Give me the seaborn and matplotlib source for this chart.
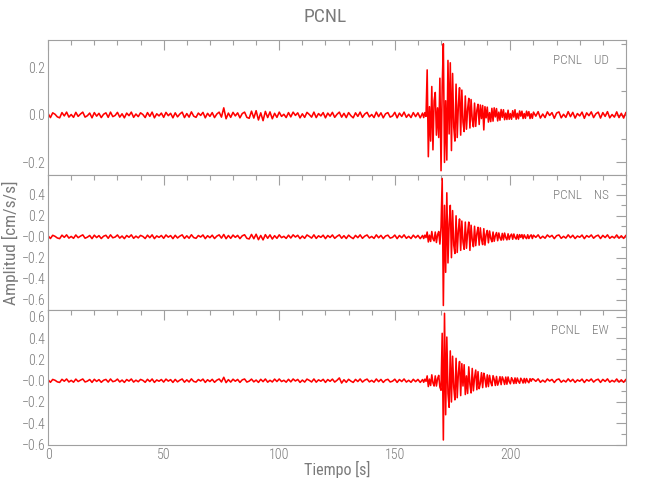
import numpy as np
import pandas as pd
import seaborn as sns
import matplotlib
matplotlib.use("Agg")
import matplotlib.pyplot as plt
from matplotlib.ticker import MultipleLocator

# Station / components
station = "PCNL"
components = ["UD", "NS", "EW"]

# Segment start times [s]; pre/post read every 1 s, event window every 0.5 s
PRE_START, EVT_START, POST_START = 0.0, 162.0, 210.0

# ---- UD component (cm/s/s) ----
ud_pre = [
    0.006, -0.011, 0.009, 0.003, -0.008, -0.012, 0.010, -0.004, 0.012, -0.009,
    0.002, -0.010, 0.011, -0.006, 0.004, 0.012, -0.009, -0.003, 0.008, -0.012,
    0.010, -0.005, 0.007, -0.011, 0.003, 0.009, -0.010, 0.012, -0.007, -0.002,
    0.011, -0.009, 0.005, -0.012, 0.008, -0.003, 0.012, -0.010, 0.004, -0.007,
    0.009, 0.002, -0.011, 0.010, -0.006, 0.012, -0.012, 0.005, -0.004, 0.008,
    -0.010, 0.011, -0.003, 0.007, -0.012, 0.009, -0.008, 0.004, 0.012, -0.011,
    0.006, -0.009, 0.013, -0.005, -0.010, 0.008, -0.002, 0.011, -0.012, 0.007,
    -0.006, 0.010, -0.011, 0.004, 0.012, -0.009, 0.030, -0.016, 0.008, -0.010,
    0.011, -0.004, 0.009, -0.012, 0.006, 0.012, -0.010, -0.014, 0.016, -0.013,
    0.018, -0.021, 0.009, -0.024, 0.015, -0.011, 0.013, -0.016, 0.007, -0.010,
    0.012, -0.006, 0.003, -0.011, 0.010, -0.008, 0.012, -0.002, 0.009, -0.012,
    0.005, -0.010, 0.011, 0.002, -0.009, 0.012, -0.011, 0.006, -0.004, 0.010,
    -0.012, 0.008, -0.005, 0.011, -0.010, 0.003, 0.012, -0.009, 0.007, -0.011,
    0.010, -0.003, -0.012, 0.009, -0.006, 0.012, -0.010, 0.004, 0.011, -0.008,
    0.002, -0.011, 0.012, -0.007, 0.009, -0.012, 0.005, 0.010, -0.009, -0.004,
    0.011, -0.012, 0.008, -0.006, 0.012, -0.010, 0.003, -0.011, 0.010, -0.007,
    0.009, -0.012,
]
ud_evt = [
    0.008, -0.011, 0.010, -0.006, 0.190, -0.176, 0.035, -0.110, 0.120, -0.147,
    0.060, 0.095, -0.085, 0.030, -0.095, 0.155, -0.235, 0.120, 0.300, -0.200,
    0.060, -0.190, 0.230, -0.080, 0.220, -0.150, 0.175, -0.050, -0.110, 0.130,
    -0.095, 0.040, 0.115, -0.085, 0.105, -0.030, -0.070, 0.080, -0.060, 0.025,
    0.070, -0.055, 0.065, -0.020, -0.050, 0.050, -0.048, 0.020, 0.045, -0.040,
    0.042, -0.015, 0.040, -0.063, 0.035, -0.012, 0.033, -0.030, 0.010, -0.028,
    0.028, -0.026, 0.030, -0.008, 0.027, -0.025, 0.012, -0.022, 0.023, -0.010,
    0.022, -0.020, 0.008, -0.019, 0.020, -0.018, 0.006, -0.018, 0.018, -0.009,
    0.022, -0.018, 0.007, -0.016, 0.017, -0.005, 0.016, -0.015, 0.006, -0.014,
    0.016, -0.004, 0.014, -0.015, 0.005, -0.014,
]
ud_post = [
    0.012, -0.005, 0.014, -0.013, 0.004, -0.011, 0.013, -0.002, 0.010, -0.014,
    0.008, 0.013, -0.012, 0.003, -0.010, 0.014, -0.007, 0.011, -0.013, 0.006,
    -0.004, 0.012, -0.014, 0.009, -0.003, 0.013, -0.011, 0.005, 0.012, -0.013,
    0.010, -0.006, 0.014, -0.012, 0.002, -0.009, 0.013, -0.011, 0.007, -0.013,
    0.011,
]

# ---- NS component ----
ns_pre = [
    0.009, -0.017, 0.014, 0.004, -0.012, -0.018, 0.015, -0.006, 0.018, -0.013,
    0.003, -0.015, 0.017, -0.009, 0.006, 0.018, -0.014, -0.004, 0.012, -0.018,
    0.015, -0.008, 0.011, -0.017, 0.005, 0.014, -0.015, 0.018, -0.010, -0.003,
    0.017, -0.013, 0.007, -0.018, 0.012, -0.005, 0.018, -0.015, 0.006, -0.011,
    0.013, 0.003, -0.017, 0.015, -0.009, 0.018, -0.018, 0.008, -0.006, 0.012,
    -0.015, 0.017, -0.004, 0.011, -0.018, 0.014, -0.012, 0.006, 0.018, -0.016,
    0.009, -0.014, 0.019, -0.008, -0.015, 0.012, -0.003, 0.017, -0.018, 0.010,
    -0.009, 0.015, -0.017, 0.006, 0.018, -0.013, 0.022, -0.019, 0.012, -0.015,
    0.016, -0.006, 0.013, -0.018, 0.009, 0.019, -0.015, -0.021, 0.022, -0.019,
    0.024, -0.028, 0.012, -0.030, 0.020, -0.015, 0.018, -0.022, 0.010, -0.015,
    0.018, -0.009, 0.004, -0.016, 0.015, -0.012, 0.018, -0.003, 0.014, -0.018,
    0.007, -0.015, 0.017, 0.003, -0.013, 0.018, -0.016, 0.009, -0.006, 0.015,
    -0.018, 0.012, -0.007, 0.017, -0.015, 0.004, 0.018, -0.014, 0.010, -0.017,
    0.015, -0.004, -0.018, 0.013, -0.009, 0.018, -0.015, 0.006, 0.017, -0.012,
    0.003, -0.016, 0.018, -0.010, 0.013, -0.018, 0.007, 0.015, -0.013, -0.006,
    0.016, -0.018, 0.012, -0.009, 0.018, -0.015, 0.004, -0.017, 0.015, -0.010,
    0.013, -0.018,
]
ns_evt = [
    0.012, -0.017, 0.015, -0.008, 0.045, -0.050, 0.015, -0.045, 0.050, -0.020,
    -0.040, 0.045, -0.055, 0.020, 0.050, -0.070, 0.090, 0.557, -0.657, 0.300,
    -0.340, 0.420, -0.250, 0.120, 0.300, -0.200, 0.250, -0.080, -0.160, 0.200,
    -0.150, 0.060, 0.170, -0.130, 0.150, -0.050, -0.120, 0.140, -0.110, 0.040,
    0.140, -0.130, 0.110, -0.030, -0.095, 0.100, -0.085, 0.030, 0.090, -0.080,
    0.085, -0.025, -0.075, 0.077, -0.080, 0.020, 0.060, -0.058, 0.055, -0.015,
    -0.048, 0.045, -0.043, 0.012, 0.040, -0.038, 0.036, -0.010, -0.033, 0.032,
    -0.030, 0.035, -0.008, -0.030, 0.028, -0.026, 0.010, 0.025, -0.024, 0.026,
    -0.008, -0.022, 0.021, -0.025, 0.020, -0.006, 0.020, -0.019, 0.018, -0.005,
    -0.018, 0.019, -0.017, 0.006, 0.018, -0.017,
]
ns_post = [
    0.015, -0.006, 0.018, -0.016, 0.005, -0.014, 0.017, -0.003, 0.013, -0.018,
    0.010, 0.017, -0.015, 0.004, -0.013, 0.018, -0.009, 0.014, -0.017, 0.007,
    -0.005, 0.016, -0.018, 0.011, -0.004, 0.017, -0.014, 0.006, 0.015, -0.017,
    0.013, -0.008, 0.018, -0.015, 0.003, -0.012, 0.017, -0.014, 0.009, -0.016,
    0.014,
]

# ---- EW component ----
ew_pre = [
    0.008, -0.015, 0.012, 0.004, -0.011, -0.016, 0.013, -0.005, 0.016, -0.012,
    0.003, -0.014, 0.015, -0.008, 0.005, 0.016, -0.012, -0.004, 0.011, -0.016,
    0.013, -0.007, 0.010, -0.015, 0.004, 0.012, -0.013, 0.016, -0.009, -0.003,
    0.015, -0.012, 0.006, -0.016, 0.011, -0.004, 0.016, -0.013, 0.005, -0.010,
    0.012, 0.003, -0.015, 0.013, -0.008, 0.016, -0.016, 0.007, -0.005, 0.011,
    -0.013, 0.015, -0.004, 0.010, -0.016, 0.012, -0.011, 0.005, 0.016, -0.014,
    0.008, -0.012, 0.017, -0.007, -0.013, 0.011, -0.003, 0.015, -0.016, 0.009,
    -0.008, 0.013, -0.015, 0.005, 0.016, -0.012, 0.032, -0.018, 0.010, -0.013,
    0.014, -0.005, 0.012, -0.016, 0.008, 0.016, -0.013, -0.004, 0.015, -0.011,
    0.006, -0.016, 0.013, -0.009, 0.016, -0.014, 0.004, -0.012, 0.015, -0.008,
    0.016, -0.008, 0.004, -0.014, 0.013, -0.011, 0.016, -0.003, 0.012, -0.016,
    0.006, -0.013, 0.015, 0.003, -0.012, 0.016, -0.014, 0.008, -0.005, 0.013,
    -0.016, 0.011, -0.006, 0.015, -0.013, 0.004, 0.026, -0.022, 0.009, -0.015,
    0.013, -0.004, -0.016, 0.012, -0.008, 0.016, -0.013, 0.005, 0.015, -0.011,
    0.003, -0.014, 0.016, -0.009, 0.012, -0.016, 0.006, 0.013, -0.012, -0.005,
    0.014, -0.016, 0.011, -0.008, 0.016, -0.013, 0.004, -0.015, 0.013, -0.009,
    0.012, -0.016,
]
ew_evt = [
    0.011, -0.015, 0.014, -0.006, 0.045, -0.055, 0.015, -0.045, 0.055, -0.020,
    -0.050, 0.045, -0.050, 0.020, 0.050, -0.060, -0.090, 0.445, -0.557, 0.633,
    -0.320, 0.410, -0.120, -0.250, 0.280, -0.200, 0.230, -0.060, -0.180, 0.210,
    -0.160, 0.070, 0.180, -0.140, 0.160, -0.050, 0.150, -0.130, 0.045, -0.120,
    0.130, -0.035, -0.115, 0.115, -0.095, 0.030, 0.100, -0.085, 0.085, -0.075,
    -0.025, 0.075, -0.065, 0.070, 0.020, -0.060, 0.055, -0.055, 0.050, -0.015,
    -0.048, 0.047, 0.012, -0.045, 0.040, -0.042, -0.010, 0.038, -0.037, 0.036,
    0.008, -0.035, 0.034, -0.033, 0.035, -0.008, -0.029, 0.028, 0.006, -0.027,
    0.026, -0.025, 0.025, -0.007, -0.024, 0.023, 0.005, -0.022, 0.021, -0.021,
    0.020, -0.006, -0.019, 0.019, -0.005, 0.018,
]
ew_post = [
    0.014, -0.006, 0.017, -0.015, 0.005, -0.013, 0.016, -0.003, 0.012, -0.017,
    0.009, 0.016, -0.014, 0.004, -0.012, 0.017, -0.008, 0.013, -0.016, 0.007,
    -0.005, 0.015, -0.017, 0.010, -0.004, 0.016, -0.013, 0.006, 0.014, -0.016,
    0.012, -0.007, 0.017, -0.014, 0.003, -0.011, 0.016, -0.013, 0.008, -0.015,
    0.013,
]

# y tick positions and labels per panel (IDL prints "-0.0" on the lower two)
ud_yticks = [-0.2, 0.0, 0.2]
ud_ylabels = ["\u22120.2", "0.0", "0.2"]
ns_yticks = [-0.6, -0.4, -0.2, 0.0, 0.2, 0.4]
ns_ylabels = ["\u22120.6", "\u22120.4", "\u22120.2", "\u22120.0", "0.2", "0.4"]
ew_yticks = [-0.6, -0.4, -0.2, 0.0, 0.2, 0.4, 0.6]
ew_ylabels = ["\u22120.6", "\u22120.4", "\u22120.2", "\u22120.0", "0.2", "0.4", "0.6"]
x_ticks = [0, 50, 100, 150, 200]


def build_trace(pre, evt, post):
    t = np.concatenate([
        PRE_START + np.arange(len(pre)) * 1.0,
        EVT_START + np.arange(len(evt)) * 0.5,
        POST_START + np.arange(len(post)) * 1.0,
    ])
    return pd.DataFrame({"t": t, "amp": np.concatenate([pre, evt, post])})


traces = [build_trace(ud_pre, ud_evt, ud_post),
          build_trace(ns_pre, ns_evt, ns_post),
          build_trace(ew_pre, ew_evt, ew_post)]
ylims = [(-0.253, 0.316), (-0.70, 0.59), (-0.604, 0.664)]
yticks = [(ud_yticks, ud_ylabels), (ns_yticks, ns_ylabels), (ew_yticks, ew_ylabels)]

sns.set_style("white")
plt.rcParams["font.family"] = ["Roboto Condensed", "Liberation Sans Narrow",
                               "DejaVu Sans Condensed", "Roboto", "DejaVu Sans"]
plt.rcParams["font.weight"] = "light"
TXT = "#7a7a7a"
AX = "#a0a0a0"

fig, axes = plt.subplots(3, 1, figsize=(6.5, 5), dpi=100, sharex=True)
fig.subplots_adjust(left=0.074, right=0.963, top=0.92, bottom=0.11, hspace=0)

for ax, df, comp, ylim, (yt, yl) in zip(axes, traces, components, ylims, yticks):
    sns.lineplot(x="t", y="amp", data=df, ax=ax, color="red", linewidth=1.15,
                 estimator=None, legend=False)
    ax.set_xlim(0, 250)
    ax.set_ylim(*ylim)
    ax.set_yticks(yt)
    ax.set_yticklabels(yl)
    ax.yaxis.set_minor_locator(MultipleLocator(0.1))
    ax.xaxis.set_minor_locator(MultipleLocator(10))
    ax.set_xticks(x_ticks)
    ax.tick_params(which="both", direction="in", top=True, right=True,
                   color=AX, labelcolor=TXT, labelsize=10, width=0.8, pad=2)
    ax.tick_params(which="major", length=7)
    ax.tick_params(which="minor", length=3.5)
    for s in ax.spines.values():
        s.set_color(AX)
        s.set_linewidth(0.8)
    ax.set_xlabel("")
    ax.set_ylabel("")
    ax.text(0.971, 0.845, f"{station}    {comp}", transform=ax.transAxes,
            ha="right", va="center", color=TXT, fontsize=9.5)

axes[2].set_xlabel("Tiempo [s]", color=TXT, fontsize=11.5)
axes[2].xaxis.set_label_coords(0.5, -0.115)
axes[1].set_ylabel("Amplitud [cm/s/s]", color=TXT, fontsize=12.5)
axes[1].yaxis.set_label_coords(-0.05, 0.5)
fig.suptitle(station, color=TXT, fontsize=14, y=0.985)

fig.savefig("out.png", dpi=100)
